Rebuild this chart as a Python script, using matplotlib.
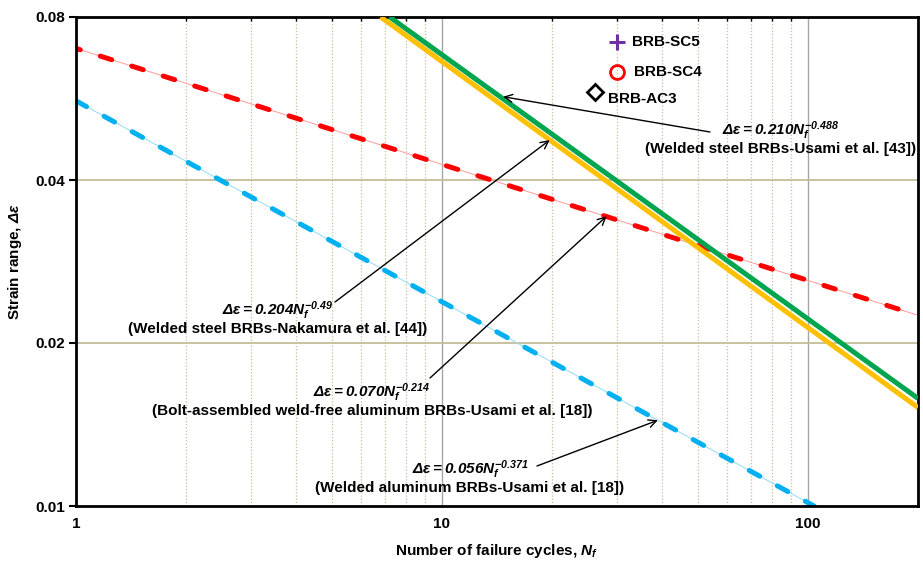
import matplotlib
matplotlib.use("Agg")
import matplotlib.pyplot as plt
from matplotlib.ticker import FixedLocator, NullLocator, FixedFormatter

plt.rcParams['font.family'] = ['Liberation Sans', 'DejaVu Sans']
plt.rcParams['mathtext.fontset'] = 'custom'
plt.rcParams['mathtext.it'] = 'Liberation Sans:italic:bold'
plt.rcParams['mathtext.rm'] = 'Liberation Sans:italic:bold'
plt.rcParams['mathtext.bf'] = 'Liberation Sans:bold'

# ---- data ----
green_x = [7.2, 200]          # 0.210 Nf^-0.488 (Usami, welded steel)
green_y = [0.080, 0.0158]
yellow_x = [6.8, 200]         # 0.204 Nf^-0.49 (Nakamura)
yellow_y = [0.080, 0.0152]
red_x = [1, 200]              # 0.070 Nf^-0.214
red_y = [0.070, 0.0225]
blue_x = [1, 104]             # 0.056 Nf^-0.371
blue_y = [0.056, 0.0100]

points_names = ["BRB-SC5", "BRB-SC4", "BRB-AC3"]
points_x = [30.1, 30.1, 26.2]
points_y = [0.0720, 0.0632, 0.0582]

y_ticks = [0.01, 0.02, 0.04, 0.08]
y_tick_labels = ["0.01", "0.02", "0.04", "0.08"]
x_ticks = [1, 10, 100]
x_tick_labels = ["1", "10", "100"]
x_minor = [2, 3, 4, 5, 6, 7, 8, 9, 20, 30, 40, 50, 60, 70, 80, 90]

eq_texts = [
    (r"$\Delta\varepsilon = 0.210N_f^{-0.488}$", "(Welded steel BRBs-Usami et al. [43])"),
    (r"$\Delta\varepsilon = 0.204N_f^{-0.49}$", "(Welded steel BRBs-Nakamura et al. [44])"),
    (r"$\Delta\varepsilon = 0.070N_f^{-0.214}$", "(Bolt-assembled weld-free aluminum BRBs-Usami et al. [18])"),
    (r"$\Delta\varepsilon = 0.056N_f^{-0.371}$", "(Welded aluminum BRBs-Usami et al. [18])"),
]
arrow_tips = [(14.7, 0.0570), (19.7, 0.0474), (28.2, 0.0343), (38.9, 0.0144)]

# ---- figure ----
fig = plt.figure(figsize=(9.23, 5.63), dpi=100)
ax = fig.add_axes([76/923, 1-506/563, 842/923, 489/563])
ax.set_xscale('log')
ax.set_yscale('log')
ax.set_xlim(1, 200)
ax.set_ylim(0.01, 0.08)

# grid
for xm in x_minor:
    ax.axvline(xm, color='#C9BF98', lw=0.9, ls=(0, (1, 1.6)), zorder=0.5)
for xm in [10, 100]:
    ax.axvline(xm, color='#A6A6A6', lw=1.0, zorder=0.6)
for yv in [0.02, 0.04]:
    ax.axhline(yv, color='#C4BD97', lw=1.3, zorder=0.6)

# lines
ax.plot(red_x, red_y, color='#FF9A9A', lw=0.7, zorder=2)
ax.plot(red_x, red_y, color='#FF0000', lw=3.6, ls=(1.5, (2.4, 4.2)),
        dash_capstyle='round', zorder=2.1)
ax.plot(blue_x, blue_y, color='#8FDcF8', lw=0.7, zorder=2)
ax.plot(blue_x, blue_y, color='#00B0F0', lw=3.6, ls=(0, (2.4, 4.0)),
        dash_capstyle='round', zorder=2.1)
ax.plot(yellow_x, yellow_y, color='#FFC000', lw=3.6, solid_capstyle='butt', zorder=3)
ax.plot(green_x, green_y, color='#00A550', lw=3.6, solid_capstyle='butt', zorder=3.1)

# points
ax.plot(points_x[0], points_y[0], marker='+', ms=11, mew=2.2, color='#7030A0', ls='none', zorder=5)
ax.plot(points_x[1], points_y[1], marker='o', ms=10, mew=2.0, mec='#FF0000', mfc='none', ls='none', zorder=5)
ax.plot(points_x[2], points_y[2], marker='D', ms=8, mew=2.0, mec='black', mfc='white', ls='none', zorder=5)
label_offsets = [(632.7 - 617.3, 0), (634 - 617, 0), (608 - 595, 7.5)]
for name, px, py, (dx, dy) in zip(points_names, points_x, points_y, label_offsets):
    ax.annotate(name, (px, py), xytext=(dx * 0.72, -dy * 0.72), textcoords='offset points',
                ha='left', va='center', fontsize=11, fontweight='bold', zorder=6)

# annotation texts (axes fraction positions) and arrows
text_pos = [((781 - 76) / 842, (506 - 131) / 489),
            ((278 - 76) / 842, (506 - 311) / 489),
            ((372 - 76) / 842, (506 - 393) / 489),
            ((470 - 76) / 842, (506 - 470) / 489)]
tails = [((710 - 76) / 842, (506 - 132) / 489),
         ((335 - 76) / 842, (506 - 302) / 489),
         ((430 - 76) / 842, (506 - 378) / 489),
         ((537 - 76) / 842, (506 - 466) / 489)]
line_gap = 18 / 489
for (eq, desc), (tx, ty), tail, tip in zip(eq_texts, text_pos, tails, arrow_tips):
    ax.text(tx, ty, eq, transform=ax.transAxes, ha='center', va='center', fontsize=11, zorder=6)
    ax.text(tx, ty - line_gap, desc, transform=ax.transAxes, ha='center', va='center',
            fontsize=11, fontweight='bold', zorder=6)
    ax.annotate('', xy=tip, xycoords='data', xytext=tail, textcoords='axes fraction',
                arrowprops=dict(arrowstyle='->', color='black', lw=1.0,
                                shrinkA=0, shrinkB=0, mutation_scale=14), zorder=6)

# ticks
ax.yaxis.set_major_locator(FixedLocator(y_ticks))
ax.yaxis.set_major_formatter(FixedFormatter(y_tick_labels))
ax.yaxis.set_minor_locator(NullLocator())
ax.xaxis.set_major_locator(FixedLocator(x_ticks))
ax.xaxis.set_major_formatter(FixedFormatter(x_tick_labels))
ax.xaxis.set_minor_locator(FixedLocator(x_minor))
ax.xaxis.set_minor_formatter(FixedFormatter([''] * len(x_minor)))
ax.tick_params(axis='y', which='major', length=5, width=1.5, labelsize=11, pad=3)
ax.tick_params(axis='x', which='major', length=0, labelsize=11, pad=8)
ax.tick_params(axis='x', which='minor', bottom=False, top=True, direction='in', length=3, width=1)
for lab in ax.get_xticklabels() + ax.get_yticklabels():
    lab.set_fontweight('bold')

for s in ax.spines.values():
    s.set_linewidth(2.0)
    s.set_color('black')

ax.set_xlabel(r"Number of failure cycles, $N_f$", fontsize=11, fontweight='bold', labelpad=8)
ax.set_ylabel(r"Strain range, $\Delta\varepsilon$", fontsize=11, fontweight='bold', labelpad=8)

fig.savefig("out.png", dpi=100)
